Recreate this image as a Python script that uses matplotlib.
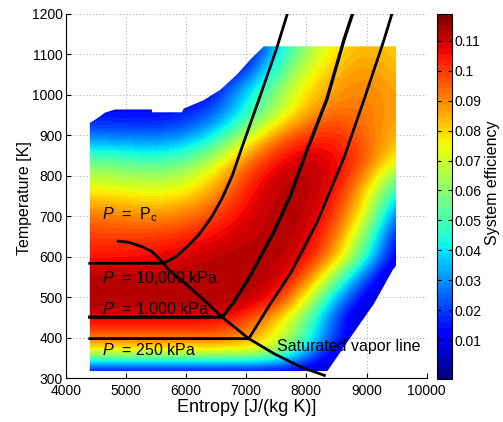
import numpy as np
import matplotlib
matplotlib.use("Agg")
import matplotlib.pyplot as plt
from matplotlib.patches import Polygon
from matplotlib.colors import Normalize
from matplotlib.cm import ScalarMappable

plt.rcParams['font.family'] = ['Liberation Sans', 'DejaVu Sans']
plt.rcParams['mathtext.fontset'] = 'custom'
plt.rcParams['mathtext.rm'] = 'Liberation Sans'
plt.rcParams['mathtext.it'] = 'Liberation Sans:italic'

# ---- efficiency map sampled on a regular (entropy, temperature) grid ----
entropy_grid = [4500, 5000, 5500, 6000, 6500, 7000, 7500, 8000, 8500, 9000, 9500]
temperature_grid = [320, 360, 400, 440, 480, 520, 560, 600, 640, 680, 720,
                    760, 800, 840, 880, 920, 960, 1000, 1040, 1080, 1120]

eff_T320 = [0.010, 0.010, 0.010, 0.010, 0.010, 0.010, 0.010, 0.008, 0.003, 0.000, 0.000]
eff_T360 = [0.070, 0.070, 0.070, 0.070, 0.070, 0.070, 0.062, 0.030, 0.005, 0.000, 0.000]
eff_T400 = [0.094, 0.094, 0.094, 0.094, 0.094, 0.090, 0.075, 0.050, 0.017, 0.000, 0.000]
eff_T440 = [0.106, 0.106, 0.106, 0.106, 0.106, 0.098, 0.081, 0.053, 0.018, 0.000, 0.000]
eff_T480 = [0.113, 0.113, 0.113, 0.113, 0.113, 0.110, 0.100, 0.068, 0.026, 0.005, 0.000]
eff_T520 = [0.113, 0.113, 0.113, 0.113, 0.113, 0.113, 0.110, 0.085, 0.043, 0.012, 0.000]
eff_T560 = [0.112, 0.112, 0.112, 0.113, 0.113, 0.113, 0.112, 0.100, 0.063, 0.025, 0.000]
eff_T600 = [0.104, 0.105, 0.106, 0.109, 0.112, 0.113, 0.113, 0.108, 0.085, 0.045, 0.005]
eff_T640 = [0.101, 0.101, 0.102, 0.104, 0.108, 0.111, 0.113, 0.110, 0.092, 0.053, 0.009]
eff_T680 = [0.095, 0.094, 0.093, 0.096, 0.103, 0.109, 0.113, 0.112, 0.097, 0.066, 0.015]
eff_T720 = [0.088, 0.086, 0.084, 0.087, 0.096, 0.107, 0.113, 0.113, 0.102, 0.075, 0.026]
eff_T760 = [0.077, 0.075, 0.073, 0.076, 0.088, 0.104, 0.112, 0.113, 0.106, 0.080, 0.042]
eff_T800 = [0.066, 0.064, 0.062, 0.066, 0.080, 0.100, 0.110, 0.113, 0.108, 0.090, 0.055]
eff_T840 = [0.053, 0.050, 0.048, 0.052, 0.068, 0.090, 0.105, 0.111, 0.107, 0.097, 0.073]
eff_T880 = [0.034, 0.033, 0.032, 0.036, 0.050, 0.075, 0.096, 0.105, 0.104, 0.095, 0.081]
eff_T920 = [0.020, 0.019, 0.019, 0.022, 0.034, 0.057, 0.080, 0.096, 0.100, 0.092, 0.085]
eff_T960 = [0.013, 0.013, 0.013, 0.015, 0.023, 0.044, 0.065, 0.085, 0.094, 0.092, 0.086]
eff_T1000 = [0.010, 0.010, 0.010, 0.010, 0.015, 0.040, 0.062, 0.080, 0.089, 0.091, 0.086]
eff_T1040 = [0.006, 0.006, 0.006, 0.006, 0.011, 0.025, 0.052, 0.075, 0.086, 0.090, 0.084]
eff_T1080 = [0.003, 0.003, 0.003, 0.003, 0.005, 0.012, 0.045, 0.068, 0.082, 0.087, 0.082]
eff_T1120 = [0.000, 0.000, 0.000, 0.000, 0.000, 0.005, 0.037, 0.063, 0.078, 0.085, 0.080]

efficiency_rows = [eff_T320, eff_T360, eff_T400, eff_T440, eff_T480, eff_T520,
                   eff_T560, eff_T600, eff_T640, eff_T680, eff_T720, eff_T760,
                   eff_T800, eff_T840, eff_T880, eff_T920, eff_T960, eff_T1000,
                   eff_T1040, eff_T1080, eff_T1120]

# ---- outline of the evaluated inlet states ----
domain_s = [4400, 8350, 8738, 9127, 9433, 9490, 9490, 7293, 7072, 6850, 6572,
            6293, 5960, 5930, 5433, 5433, 4820, 4650, 4570, 4490, 4400]
domain_T = [318, 318, 402, 485, 567, 578, 1120, 1120, 1088, 1051, 1013,
            987, 966, 957, 957, 964, 964, 956, 947, 939, 931]

# ---- saturated vapor line ----
sat_s = [4850, 5043, 5267, 5433, 5627, 5710, 5988, 6267, 6600, 7043, 7460, 7905, 8322]
sat_T = [639, 636, 625, 613, 584, 567, 534, 497, 451, 398, 361, 328, 306]

# ---- isobars (saturated plateau + superheated branch) ----
p10000_s = [4400, 5627, 5822, 5988, 6210, 6433, 6600, 6767, 6905, 7238, 7517, 7683]
p10000_T = [584, 584, 600, 621, 654, 700, 745, 800, 860, 1000, 1120, 1200]

p1000_s = [4400, 6600, 6800, 6988, 7072, 7460, 7738, 7980, 8340, 8627, 8767]
p1000_T = [451, 451, 490, 534, 555, 662, 753, 852, 989, 1137, 1200]

p250_s = [4400, 7043, 7405, 7738, 8183, 8627, 8960, 9293, 9422]
p250_T = [398, 398, 485, 560, 687, 846, 989, 1137, 1200]

eff_min, eff_max = -0.003, 0.119
cbar_ticks = [0.01, 0.02, 0.03, 0.04, 0.05, 0.06, 0.07, 0.08, 0.09, 0.1, 0.11]
cbar_ticklabels = ['0.01', '0.02', '0.03', '0.04', '0.05', '0.06', '0.07',
                   '0.08', '0.09', '0.1', '0.11']

x_ticks = [4000, 5000, 6000, 7000, 8000, 9000, 10000]
y_ticks = [300, 400, 500, 600, 700, 800, 900, 1000, 1100, 1200]

# ---- figure ----
fig = plt.figure(figsize=(5.03, 4.22), dpi=100)
ax = fig.add_axes([0.1306, 0.1036, 0.7177, 0.8634])
cax = fig.add_axes([0.8688, 0.1020, 0.0298, 0.8650])

cmap = plt.get_cmap('jet', 64)
norm = Normalize(vmin=eff_min, vmax=eff_max)

Z = np.array(efficiency_rows)
ds = entropy_grid[1] - entropy_grid[0]
dT = temperature_grid[1] - temperature_grid[0]
extent = [entropy_grid[0] - ds / 2, entropy_grid[-1] + ds / 2,
          temperature_grid[0] - dT / 2, temperature_grid[-1] + dT / 2]
im = ax.imshow(Z, origin='lower', extent=extent, aspect='auto', cmap=cmap,
               norm=norm, interpolation='bicubic', interpolation_stage='data',
               zorder=1)
domain = Polygon(np.column_stack([domain_s, domain_T]), closed=True,
                 transform=ax.transData, facecolor='none', edgecolor='none')
im.set_clip_path(domain)

lw = 2.0
ax.plot(sat_s, sat_T, color='black', lw=lw, zorder=3, solid_capstyle='butt')
ax.plot(p10000_s, p10000_T, color='black', lw=lw, zorder=3)
ax.plot(p1000_s, p1000_T, color='black', lw=2.4, zorder=3)
ax.plot(p250_s, p250_T, color='black', lw=lw, zorder=3)

label_fs = 11.5
ax.text(4600, 704, r'$P$  =  P$_\mathrm{c}$', fontsize=label_fs, va='center', ha='left', zorder=2)
ax.text(4600, 547, r'$P$  = 10,000 kPa', fontsize=label_fs, va='center', ha='left', zorder=2)
ax.text(4600, 472, r'$P$  = 1,000 kPa', fontsize=label_fs, va='center', ha='left', zorder=2)
ax.text(4600, 369, r'$P$  = 250 kPa', fontsize=label_fs, va='center', ha='left', zorder=2)
ax.text(7517, 379, 'Saturated vapor line', fontsize=label_fs, va='center', ha='left', zorder=4)

ax.set_xlim(4000, 10000)
ax.set_ylim(300, 1200)
ax.set_xticks(x_ticks)
ax.set_yticks(y_ticks)
ax.set_xticklabels([str(v) for v in x_ticks])
ax.set_yticklabels([str(v) for v in y_ticks])
ax.tick_params(direction='in', length=3.5, width=0.8, labelsize=10, colors='black')
ax.tick_params(axis='y', pad=2)
ax.tick_params(axis='x', pad=4)
ax.grid(True, linestyle=(0, (1, 2)), color='#b0b0b0', linewidth=0.8)
ax.set_axisbelow(True)
for side in ('top', 'right'):
    ax.spines[side].set_visible(False)
for side in ('left', 'bottom'):
    ax.spines[side].set_linewidth(0.8)

ax.set_xlabel('Entropy [J/(kg K)]', fontsize=13)
ax.set_ylabel('Temperature [K]', fontsize=11.5)
ax.xaxis.set_label_coords(0.5, -0.056)
ax.yaxis.set_label_coords(-0.093, 0.494)

sm = ScalarMappable(norm=norm, cmap=cmap)
cb = fig.colorbar(sm, cax=cax)
cb.set_ticks(cbar_ticks)
cb.set_ticklabels(cbar_ticklabels)
cb.outline.set_linewidth(0.8)
cax.tick_params(direction='in', length=3, width=0.8, labelsize=10, pad=2,
                left=True, right=True)
cb.set_label('System efficiency', fontsize=11.5)
cax.yaxis.set_label_coords(3.2, 0.537)

fig.savefig('out.png', dpi=100)
